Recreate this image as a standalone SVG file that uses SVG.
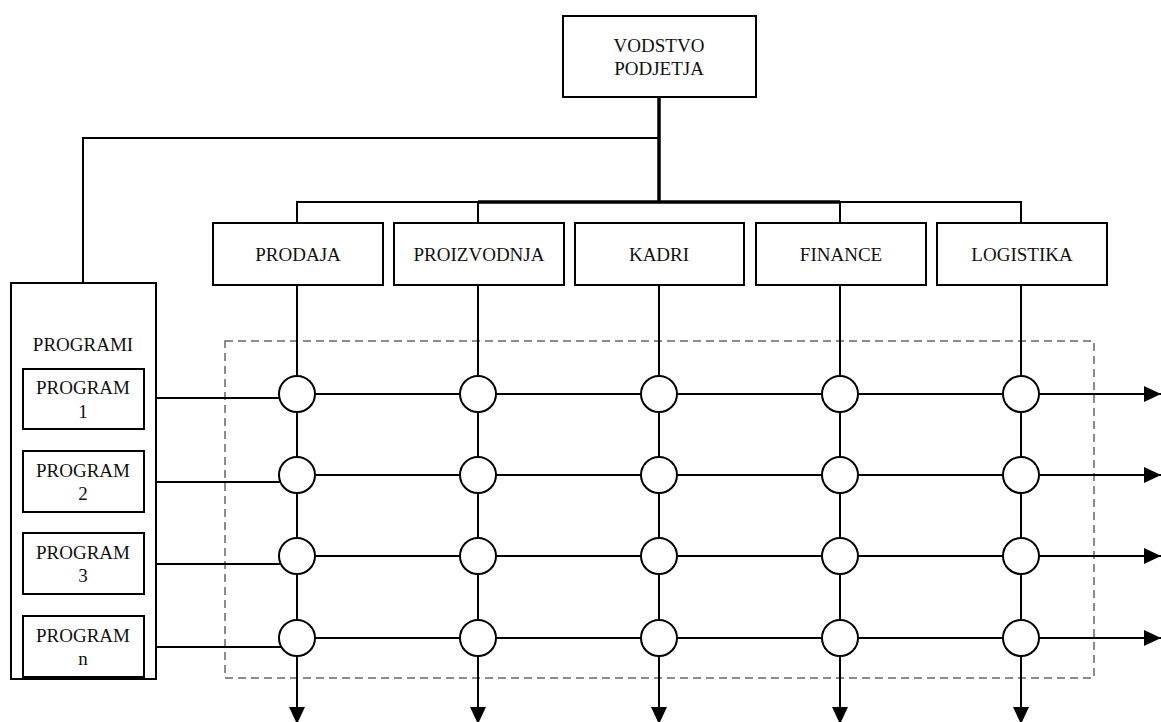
<svg xmlns="http://www.w3.org/2000/svg" width="1161" height="722" viewBox="0 0 1161 722">
  <style>
    .box { fill: #fff; stroke: #000; stroke-width: 2; }
    .lbl { font-family: "Liberation Serif", "Times New Roman", serif; font-size: 19px; fill: #111; text-anchor: middle; }
    .ln { fill: none; stroke: #000; stroke-width: 2; }
    .thick { fill: none; stroke: #000; stroke-width: 3.5; }
    .node { fill: #fff; stroke: #000; stroke-width: 2; }
    .arr { fill: none; stroke: #000; stroke-width: 2; marker-end: url(#head); }
    .frame { fill: none; stroke: #666; stroke-width: 1.5; stroke-dasharray: 8 5; }
  </style>
  <defs>
    <marker id="head" viewBox="0 0 10 10" refX="10" refY="5" markerWidth="8.5" markerHeight="8" markerUnits="strokeWidth" orient="auto" preserveAspectRatio="none">
      <path d="M0,0 L10,5 L0,10 Z" fill="#000"/>
    </marker>
  </defs>
  <rect width="1161" height="722" fill="#fff"/>

  <!-- dashed matrix frame -->
  <rect class="frame" x="225" y="341" width="869" height="337"/>

  <g id="connectors">
    <!-- management trunk and bus -->
    <path class="thick" d="M659,97 V202"/>
    <path class="thick" d="M478,202 H840"/>
    <path class="ln" d="M297,223 V202 H478"/>
    <path class="ln" d="M840,202 H1021 V223"/>
    <path class="ln" d="M478,202 V223"/>
    <path class="ln" d="M840,202 V223"/>
    <path class="ln" d="M659,138 H83 V283"/>

    <!-- department columns -->
    <path class="arr" d="M297,285 V724"/>
    <path class="arr" d="M478,285 V724"/>
    <path class="arr" d="M659,285 V724"/>
    <path class="arr" d="M840,285 V724"/>
    <path class="arr" d="M1021,285 V724"/>

    <!-- program rows: feed into first node -->
    <path class="ln" d="M144,398 H280"/>
    <path class="ln" d="M144,482 H281"/>
    <path class="ln" d="M144,564 H281"/>
    <path class="ln" d="M144,647 H281"/>

    <!-- program rows through the matrix -->
    <path class="arr" d="M297,394 H1161"/>
    <path class="arr" d="M297,475 H1161"/>
    <path class="arr" d="M297,556 H1161"/>
    <path class="arr" d="M297,638 H1161"/>
  </g>

  <g id="nodes-matrix">
    <circle class="node" cx="297" cy="394" r="18"/>
    <circle class="node" cx="478" cy="394" r="18"/>
    <circle class="node" cx="659" cy="394" r="18"/>
    <circle class="node" cx="840" cy="394" r="18"/>
    <circle class="node" cx="1021" cy="394" r="18"/>
    <circle class="node" cx="297" cy="475" r="18"/>
    <circle class="node" cx="478" cy="475" r="18"/>
    <circle class="node" cx="659" cy="475" r="18"/>
    <circle class="node" cx="840" cy="475" r="18"/>
    <circle class="node" cx="1021" cy="475" r="18"/>
    <circle class="node" cx="297" cy="556" r="18"/>
    <circle class="node" cx="478" cy="556" r="18"/>
    <circle class="node" cx="659" cy="556" r="18"/>
    <circle class="node" cx="840" cy="556" r="18"/>
    <circle class="node" cx="1021" cy="556" r="18"/>
    <circle class="node" cx="297" cy="638" r="18"/>
    <circle class="node" cx="478" cy="638" r="18"/>
    <circle class="node" cx="659" cy="638" r="18"/>
    <circle class="node" cx="840" cy="638" r="18"/>
    <circle class="node" cx="1021" cy="638" r="18"/>
  </g>

  <g id="vodstvo">
    <rect class="box" x="563" y="16" width="193" height="81"/>
    <text class="lbl" x="659" y="52">VODSTVO</text>
    <text class="lbl" x="659" y="75">PODJETJA</text>
  </g>

  <g id="prodaja">
    <rect class="box" x="213" y="223" width="170" height="62"/>
    <text class="lbl" x="298" y="261">PRODAJA</text>
  </g>
  <g id="proizvodnja">
    <rect class="box" x="394" y="223" width="170" height="62"/>
    <text class="lbl" x="479" y="261">PROIZVODNJA</text>
  </g>
  <g id="kadri">
    <rect class="box" x="575" y="223" width="169" height="62"/>
    <text class="lbl" x="659" y="261">KADRI</text>
  </g>
  <g id="finance">
    <rect class="box" x="756" y="223" width="170" height="62"/>
    <text class="lbl" x="841" y="261">FINANCE</text>
  </g>
  <g id="logistika">
    <rect class="box" x="937" y="223" width="170" height="62"/>
    <text class="lbl" x="1022" y="261">LOGISTIKA</text>
  </g>

  <g id="programi">
    <rect class="box" x="11" y="283" width="145" height="396"/>
    <text class="lbl" x="83" y="351">PROGRAMI</text>
  </g>
  <g id="program-1">
    <rect class="box" x="23" y="369" width="121" height="60"/>
    <text class="lbl" x="83" y="394">PROGRAM</text>
    <text class="lbl" x="83" y="418">1</text>
  </g>
  <g id="program-2">
    <rect class="box" x="23" y="451" width="121" height="61"/>
    <text class="lbl" x="83" y="477">PROGRAM</text>
    <text class="lbl" x="83" y="500">2</text>
  </g>
  <g id="program-3">
    <rect class="box" x="23" y="533" width="121" height="61"/>
    <text class="lbl" x="83" y="559">PROGRAM</text>
    <text class="lbl" x="83" y="582">3</text>
  </g>
  <g id="program-n">
    <rect class="box" x="23" y="616" width="121" height="61"/>
    <text class="lbl" x="83" y="642">PROGRAM</text>
    <text class="lbl" x="83" y="665">n</text>
  </g>
</svg>
